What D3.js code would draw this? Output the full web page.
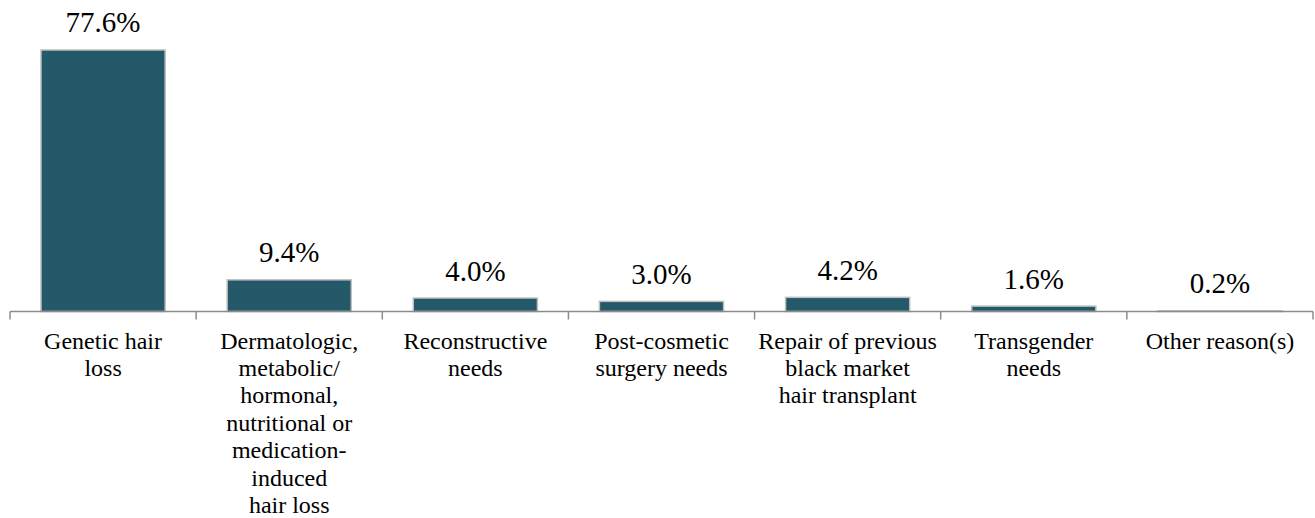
<!DOCTYPE html>
<html>
<head>
<meta charset="utf-8">
<script src="https://cdn.jsdelivr.net/npm/d3@7"></script>
</head>
<body style="margin:0">
<script>
const categories = [
  "Genetic hair loss",
  "Dermatologic, metabolic/ hormonal, nutritional or medication-induced hair loss",
  "Reconstructive needs",
  "Post-cosmetic surgery needs",
  "Repair of previous black market hair transplant",
  "Transgender needs",
  "Other reason(s)"
];
const categoryLines = [
  ["Genetic hair", "loss"],
  ["Dermatologic,", "metabolic/", "hormonal,", "nutritional or", "medication-", "induced", "hair loss"],
  ["Reconstructive", "needs"],
  ["Post-cosmetic", "surgery needs"],
  ["Repair of previous", "black market", "hair transplant"],
  ["Transgender", "needs"],
  ["Other reason(s)"]
];
const values = [77.6, 9.4, 4.0, 3.0, 4.2, 1.6, 0.2];
const valueLabels = ["77.6%", "9.4%", "4.0%", "3.0%", "4.2%", "1.6%", "0.2%"];

const W = 1315, H = 518;
const left = 10, right = 1313, axisY = 311.5;
const FONT = "Liberation Serif";
const VAL_SIZE = 29, CAT_SIZE = 24, LINE_H = 27.4;

const ctx = document.createElement("canvas").getContext("2d");
function textWidth(s, size) {
  ctx.font = size + 'px "' + FONT + '"';
  return ctx.measureText(s).width;
}

const svg = d3.select("body").append("svg").attr("width", W).attr("height", H);

const xBand = d3.scaleBand().domain(categories).range([left, right]).padding(0);
const xBar = d3.scaleBand().domain(categories).range([left, right])
  .paddingInner(0.333).paddingOuter(0.1665);
const y = d3.scaleLinear().domain([0, 80]).range([axisY, 41.9]);

// bars
svg.selectAll("rect").data(categories).join("rect")
  .attr("x", d => xBar(d))
  .attr("width", xBar.bandwidth())
  .attr("y", (d, i) => y(values[i]))
  .attr("height", (d, i) => axisY - y(values[i]))
  .attr("fill", "#235968")
  .attr("stroke", "#bfbfbf")
  .attr("stroke-width", 1.5);

// axis line and ticks
const tickXs = categories.map(c => xBand(c)).concat([xBand.range()[1]]);
svg.append("line").attr("x1", left).attr("x2", right).attr("y1", axisY).attr("y2", axisY)
  .attr("stroke", "#8c8c8c").attr("stroke-width", 1.5);
svg.selectAll("line.tick").data(tickXs).join("line").attr("class", "tick")
  .attr("x1", d => d).attr("x2", d => d)
  .attr("y1", axisY).attr("y2", axisY + 8)
  .attr("stroke", "#8c8c8c").attr("stroke-width", 1.5);

// all texts as plain, left-anchored text elements directly in the svg
const textItems = [];
categories.forEach((c, i) => {
  const cxv = xBar(c) + xBar.bandwidth() / 2;
  textItems.push({ s: valueLabels[i], size: VAL_SIZE, cx: cxv, y: y(values[i]) - 17.5 });
  const cxc = xBand(c) + xBand.bandwidth() / 2;
  categoryLines[i].forEach((ln, j) => {
    textItems.push({ s: ln, size: CAT_SIZE, cx: cxc, y: axisY + 37 + j * LINE_H });
  });
});

svg.selectAll("text").data(textItems).join("text")
  .attr("x", d => d.cx - textWidth(d.s, d.size) / 2)
  .attr("y", d => d.y)
  .attr("font-size", d => d.size)
  .attr("font-family", FONT)
  .text(d => d.s);
</script>
</body>
</html>
